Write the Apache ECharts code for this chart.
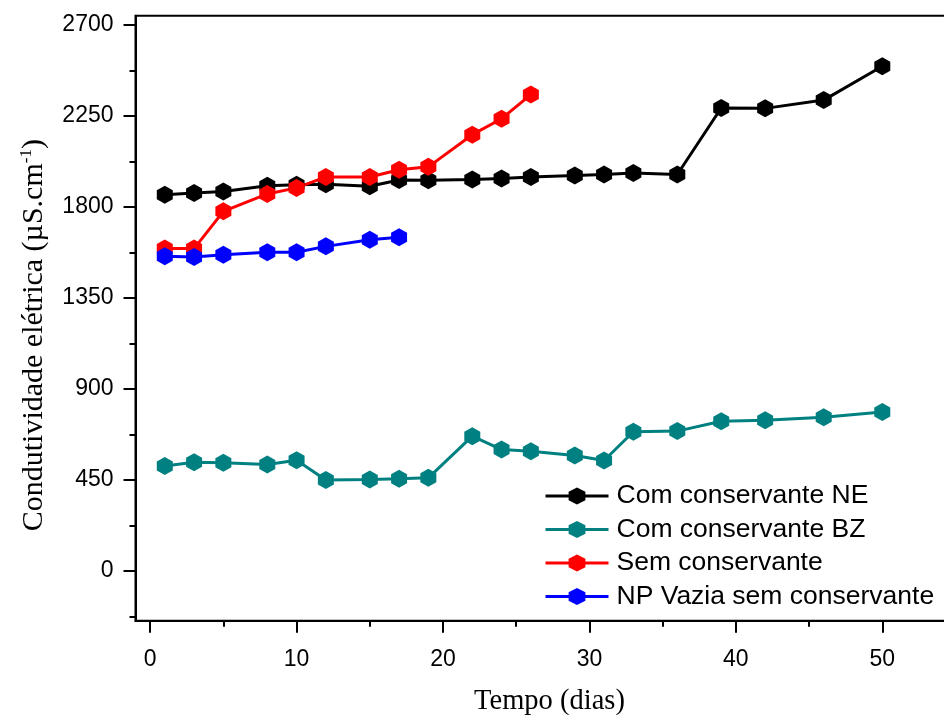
<!DOCTYPE html>
<html>
<head>
<meta charset="utf-8">
<script src="https://cdn.jsdelivr.net/npm/echarts@6/dist/echarts.min.js"></script>
<style>
  html, body { margin: 0; padding: 0; background: #fff; }
  #chart { width: 944px; height: 715px; }
</style>
</head>
<body>
<div id="chart"></div>
<script>
// days for the two long series
var days = [1, 3, 5, 8, 10, 12, 15, 17, 19, 22, 24, 26, 29, 31, 33, 36, 39, 42, 46, 50];
var comNE = [1860, 1869, 1876, 1905, 1910, 1912, 1902, 1933, 1932, 1935, 1940, 1948, 1955, 1960, 1968, 1960, 2289, 2287, 2328, 2495];
var comBZ = [519, 538, 535, 527, 548, 450, 453, 456, 461, 667, 601, 593, 571, 547, 689, 692, 741, 746, 761, 787];

var semDays = [1, 3, 5, 8, 10, 12, 15, 17, 19, 22, 24, 26];
var semCons = [1594, 1594, 1778, 1864, 1894, 1948, 1948, 1984, 1998, 2157, 2236, 2355];

var npDays = [1, 3, 5, 8, 10, 12, 15, 17];
var npVazia = [1556, 1553, 1564, 1576, 1576, 1605, 1638, 1650];

var xMajor = [0, 10, 20, 30, 40, 50];
var xMinor = [5, 15, 25, 35, 45, 55];
var yMajor = [0, 450, 900, 1350, 1800, 2250, 2700];
var yMinor = [-225, 225, 675, 1125, 1575, 2025, 2475];

var hexagon = 'path://M0,-1L0.866,-0.5L0.866,0.5L0,1L-0.866,0.5L-0.866,-0.5Z';

function pairs(xs, ys) {
  return xs.map(function (x, i) { return [x, ys[i]]; });
}

function lineSeries(name, color, data) {
  return {
    name: name,
    type: 'line',
    data: data,
    symbol: hexagon,
    symbolSize: [16, 18],
    lineStyle: { color: color, width: 3 },
    itemStyle: { color: color },
    emphasis: { disabled: true }
  };
}

function plain(v) { return String(v); }

var tickStyle = { color: '#000', width: 2 };
var labelFont = { fontFamily: 'Liberation Sans', fontSize: 23, color: '#000' };

var chart = echarts.init(document.getElementById('chart'));

chart.setOption({
  animation: false,
  backgroundColor: '#fff',
  // the plot box runs past the right edge of the picture, so don't squeeze it in
  grid: {
    left: 135.5, top: 15.7, width: 820, height: 605,
    outerBoundsMode: 'none', containLabel: false,
    show: true, borderColor: '#000', borderWidth: 2, backgroundColor: 'transparent'
  },
  legend: {
    orient: 'vertical',
    left: 544, top: 482.5, padding: 0,
    itemWidth: 63, itemHeight: 21, itemGap: 6.5,
    lineStyle: { width: 3 },
    textStyle: { fontFamily: 'Liberation Sans', fontSize: 26.5, color: '#000', lineHeight: 26, padding: [0, 0, 0, 3] },
    data: ['Com conservante NE', 'Com conservante BZ', 'Sem conservante', 'NP Vazia sem conservante']
  },
  xAxis: [{
    type: 'value', min: -1, max: 55,
    name: 'Tempo (dias)', nameLocation: 'middle', nameGap: 66,
    nameTextStyle: { fontFamily: 'Liberation Serif', fontSize: 28.5, color: '#000', verticalAlign: 'top', padding: [0, 0, 0, 8] },
    axisLine: { onZero: false, lineStyle: tickStyle },
    axisTick: { inside: false, length: 12, lineStyle: tickStyle, customValues: xMajor },
    axisLabel: Object.assign({ margin: 27, formatter: plain, customValues: xMajor }, labelFont),
    splitLine: { show: false }
  }, {
    // minor ticks, moved down onto the bottom edge
    type: 'value', min: -1, max: 55, position: 'top', offset: -605,
    axisLine: { show: false, onZero: false },
    axisTick: { inside: true, length: 6, lineStyle: tickStyle, customValues: xMinor },
    axisLabel: { show: false },
    splitLine: { show: false }
  }],
  yAxis: [{
    type: 'value', min: -245, max: 2745,
    name: '{a|Condutividade elétrica (µS.cm}{b|-1}{a|)}',
    nameLocation: 'middle', nameGap: 86, nameRotate: 90,
    nameTextStyle: {
      padding: [0, 34, 0, 0],
      rich: {
        a: { fontFamily: 'Liberation Serif', fontSize: 30, color: '#000' },
        b: { fontFamily: 'Liberation Serif', fontSize: 17, color: '#000', verticalAlign: 'top', padding: [0, 0, 14, 0] }
      }
    },
    axisLine: { onZero: false, lineStyle: tickStyle },
    axisTick: { inside: false, length: 12, lineStyle: tickStyle, customValues: yMajor },
    axisLabel: Object.assign({ margin: 22, formatter: plain, customValues: yMajor }, labelFont),
    splitLine: { show: false }
  }, {
    // minor ticks, moved left onto the left edge
    type: 'value', min: -245, max: 2745, position: 'right', offset: -820,
    axisLine: { show: false, onZero: false },
    axisTick: { inside: true, length: 6, lineStyle: tickStyle, customValues: yMinor },
    axisLabel: { show: false },
    splitLine: { show: false }
  }],
  series: [
    lineSeries('Com conservante NE', '#000000', pairs(days, comNE)),
    lineSeries('Com conservante BZ', '#008080', pairs(days, comBZ)),
    lineSeries('Sem conservante', '#ff0000', pairs(semDays, semCons)),
    lineSeries('NP Vazia sem conservante', '#0000ff', pairs(npDays, npVazia))
  ]
});
</script>
</body>
</html>
